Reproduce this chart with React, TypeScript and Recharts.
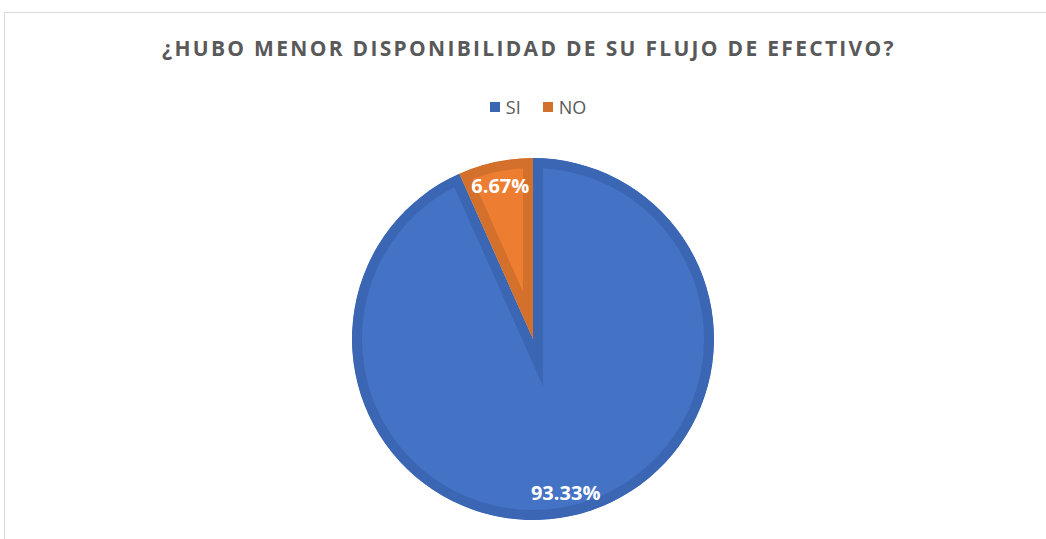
import { PieChart, Pie, Cell, Sector } from 'recharts';

const categories = ['SI', 'NO'];
const values = [93.33, 6.67];
const fills = ['#4472C4', '#ED7D31'];
const borders = ['#3B66B3', '#D2702C'];

const data = categories.map((name, i) => ({ name, value: values[i] }));

const RAD = Math.PI / 180;

const sliceShape = (props: any) => {
  const { cx, cy, innerRadius, outerRadius, startAngle, endAngle, index } = props;
  const id = `clip-slice-${index}`;
  return (
    <g>
      <defs>
        <clipPath id={id}>
          <Sector cx={cx} cy={cy} innerRadius={innerRadius} outerRadius={outerRadius} startAngle={startAngle} endAngle={endAngle} />
        </clipPath>
      </defs>
      <Sector
        cx={cx}
        cy={cy}
        innerRadius={innerRadius}
        outerRadius={outerRadius}
        startAngle={startAngle}
        endAngle={endAngle}
        fill={fills[index]}
        stroke={borders[index]}
        strokeWidth={20}
        strokeMiterlimit={10}
        strokeLinejoin="miter"
        clipPath={`url(#${id})`}
      />
    </g>
  );
};

const pctLabel = (props: any) => {
  const { cx, cy, midAngle, outerRadius, value } = props;
  const r = outerRadius * 0.868;
  const x = cx + r * Math.cos(-midAngle * RAD);
  const y = cy + r * Math.sin(-midAngle * RAD);
  return (
    <text x={x} y={y} fill="#fff" textAnchor="middle" dominantBaseline="central"
      style={{ fontFamily: '"Open Sans", sans-serif', fontWeight: 700, fontSize: 20 }}>
      {value.toFixed(2)}%
    </text>
  );
};

export default function App() {
  return (
    <div style={{ position: 'absolute', left: 0, top: 0, width: 1046, height: 539, background: '#fff', overflow: 'hidden' }}>
      <div style={{ position: 'absolute', left: 4, top: 12, width: 1041, height: 540, borderTop: '1.5px solid #d9d9d9', borderLeft: '1.5px solid #d9d9d9' }} />
      <div style={{ position: 'absolute', left: 0, top: 34, width: 1058, textAlign: 'center', fontFamily: '"Open Sans", sans-serif', fontWeight: 700, fontSize: 21, letterSpacing: 2.3, color: '#595959' }}>
        ¿HUBO MENOR DISPONIBILIDAD DE SU FLUJO DE EFECTIVO?
      </div>
      <div style={{ position: 'absolute', left: 0, top: 95, width: 1076, display: 'flex', justifyContent: 'center', alignItems: 'center', gap: 22, fontFamily: '"Open Sans", sans-serif', fontSize: 18, color: '#595959' }}>
        {categories.map((c, i) => (
          <div key={c} style={{ display: 'flex', alignItems: 'center', gap: 6 }}>
            <span style={{ width: 10, height: 10, background: borders[i], display: 'inline-block' }} />
            <span>{c}</span>
          </div>
        ))}
      </div>
      <PieChart width={1046} height={539} margin={{ top: 0, right: 0, bottom: 0, left: 0 }} style={{ position: 'absolute', left: 0, top: 0 }}>
        <Pie
          data={data}
          dataKey="value"
          nameKey="name"
          cx={533}
          cy={339}
          outerRadius={181}
          startAngle={90}
          endAngle={-270}
          stroke="none"
          shape={sliceShape}
          label={pctLabel}
          labelLine={false}
          isAnimationActive={false}
        >
          {data.map((d, i) => (
            <Cell key={d.name} fill={fills[i]} />
          ))}
        </Pie>
      </PieChart>
    </div>
  );
}
